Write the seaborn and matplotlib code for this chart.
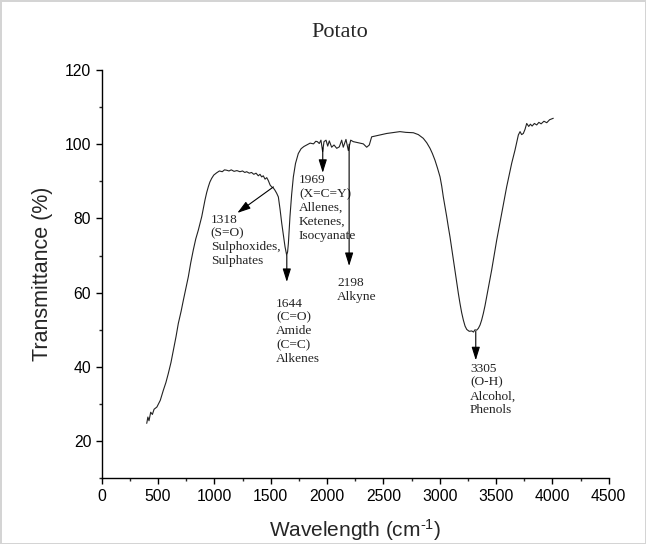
import numpy as np
import pandas as pd
import matplotlib
matplotlib.use("Agg")
import matplotlib.pyplot as plt
from matplotlib.ticker import MultipleLocator
import seaborn as sns

# ---- spectrum ----
wavenumber = [
    400, 410, 420, 435, 450, 465, 490, 520, 547, 570, 591, 615, 636, 660, 680, 705,
    725, 750, 769, 790, 813, 835, 858, 875, 888, 905, 917, 932, 946, 960, 976, 995,
    1020, 1045, 1070, 1090, 1109, 1130, 1150, 1175, 1200, 1227, 1250, 1270, 1287,
    1310, 1330, 1350, 1370, 1390, 1405, 1420, 1434, 1450, 1465, 1479, 1495, 1509,
    1524, 1538, 1553, 1568, 1583, 1598, 1613, 1627, 1642, 1650, 1657, 1664, 1671,
    1686, 1701, 1720, 1745, 1770, 1795, 1820, 1850, 1880, 1900, 1914, 1931, 1946,
    1961, 1973, 1991, 2006, 2020, 2041, 2062, 2086, 2109, 2130, 2144, 2168, 2189,
    2210, 2233, 2278, 2322, 2352, 2375, 2396, 2441, 2485, 2529, 2575, 2618, 2647,
    2700, 2766, 2810, 2854, 2885, 2914, 2935, 2958, 2980, 3003, 3018, 3032, 3047,
    3062, 3076, 3091, 3106, 3121, 3136, 3151, 3166, 3180, 3195, 3210, 3225, 3240,
    3262, 3284, 3300, 3312, 3328, 3343, 3358, 3372, 3387, 3402, 3417, 3440, 3461,
    3484, 3506, 3528, 3550, 3572, 3594, 3617, 3639, 3655, 3668, 3683, 3698, 3713,
    3727, 3742, 3757, 3772, 3790, 3805, 3820, 3840, 3861, 3880, 3900, 3925, 3950,
    3975, 4008,
]
transmittance = [
    24.8, 26.5, 25.5, 27.8, 27.2, 28.6, 29.2, 31.0, 33.7, 35.8, 38.2, 41.2, 44.5, 48.2, 51.7, 55.0,
    58.0, 61.5, 64.3, 68.0, 71.5, 74.5, 76.9, 79.0, 80.5, 83.2, 85.0, 87.0, 88.5, 89.8, 90.8, 91.7,
    92.3, 92.8, 92.6, 93.1, 93.0, 92.8, 93.1, 92.7, 92.9, 92.6, 92.8, 92.4, 92.6,
    92.2, 92.4, 91.9, 92.2, 91.5, 91.9, 91.2, 91.5, 90.6, 91.0, 90.2, 89.0, 88.5,
    88.2, 87.6, 86.8, 85.8, 82.5, 78.7, 75.5, 72.4, 70.1, 71.0, 73.3, 77.0, 80.5,
    86.5, 91.2, 94.8, 97.5, 98.8, 99.4, 99.8, 100.3, 100.1, 100.8, 100.7, 100.2, 101.1,
    98.0, 100.7, 101.1, 99.5, 100.9, 99.2, 99.8, 98.9, 99.3, 101.1, 99.2, 101.3, 98.3,
    101.1, 100.7, 100.4, 100.1, 99.2, 99.8, 102.0, 102.3, 102.6, 102.9, 103.1, 103.3, 103.4,
    103.2, 103.1, 102.6, 101.6, 100.4, 98.9, 97.5, 95.7, 93.6, 91.2, 88.7, 85.8, 83.2,
    80.5, 77.8, 75.1, 72.0, 68.8, 65.6, 62.5, 59.7, 57.1, 54.6, 52.6, 51.0, 50.1,
    49.6, 49.7, 49.4, 50.0, 49.9, 50.4, 51.3, 52.6, 54.4, 56.5, 58.9, 62.6, 66.1,
    70.2, 74.2, 77.8, 81.4, 85.0, 88.5, 91.8, 94.9, 96.8, 98.4, 100.5, 102.5, 103.4,
    102.6, 102.9, 104.0, 105.6, 104.8, 105.4, 104.9, 105.6, 105.2, 105.9, 105.5, 106.2, 105.8,
    106.6, 107.0,
]

# ---- peak annotations ----
ann_texts = [
    "1318\n(S=O)\nSulphoxides,\nSulphates",
    "1644\n(C=O)\nAmide\n(C=C)\nAlkenes",
    "1969\n(X=C=Y)\nAllenes,\nKetenes,\nIsocyanate",
    "2198\nAlkyne",
    "3305\n(O-H)\nAlcohol,\nPhenols",
]
arrow_start = [(1524, 88.5), (1643, 70.0), (1962, 99.0), (2196, 100.0), (3320, 49.6)]
arrow_end = [(1204, 81.5), (1643, 62.9), (1962, 92.3), (2196, 67.2), (3320, 41.8)]
text_pos = [(968, 81.3), (1547, 58.7), (1751, 91.9), (2091, 64.3), (3269, 41.1)]

x_ticks = [0, 500, 1000, 1500, 2000, 2500, 3000, 3500, 4000, 4500]
y_ticks = [20, 40, 60, 80, 100, 120]

sns.set_style("ticks")
plt.rcParams["font.family"] = ["Liberation Sans", "DejaVu Sans"]
plt.rcParams["mathtext.default"] = "regular"

fig = plt.figure(figsize=(6.46, 5.44), dpi=100)
fig.patch.set_facecolor("white")
fig.patch.set_edgecolor("#d4d4d4")
fig.patch.set_linewidth(2)
ax = fig.add_axes([0.1574, 0.1208, 0.7849, 0.7505])

df = pd.DataFrame({"Wavelength": wavenumber, "Transmittance": transmittance})
sns.lineplot(data=df, x="Wavelength", y="Transmittance", ax=ax, color="#222222",
             linewidth=0.8, estimator=None, sort=False)

ax.set_xlim(0, 4500)
ax.set_ylim(10, 120)
ax.set_xticks(x_ticks)
ax.set_yticks(y_ticks)
ax.xaxis.set_minor_locator(MultipleLocator(250))
ax.yaxis.set_minor_locator(MultipleLocator(10))
ax.tick_params(axis="both", which="major", direction="out", length=4.5, width=1.0,
               labelsize=11.3, colors="black", pad=3)
ax.tick_params(axis="both", which="minor", direction="out", length=2.5, width=1.0)
for s in ["top", "right"]:
    ax.spines[s].set_visible(False)
for s in ["left", "bottom"]:
    ax.spines[s].set_linewidth(1.0)
    ax.spines[s].set_color("black")

ax.set_xlabel("Wavelength (cm$^{\u2010 1}$)", fontsize=15)
ax.set_ylabel("Transmittance (%)", fontsize=15.5)
ax.xaxis.set_label_coords(0.5, -0.127)
ax.xaxis.label.set_va("center")
ax.yaxis.set_label_coords(-0.116, 0.5)
ax.yaxis.label.set_va("center")

fig.text(0.526, 0.941, "Potato", ha="center", va="center", fontsize=16,
         family=["Liberation Serif", "DejaVu Serif"])

for txt, s, e, tp in zip(ann_texts, arrow_start, arrow_end, text_pos):
    ax.annotate("", xy=e, xytext=s, xycoords="data", textcoords="data",
                arrowprops=dict(arrowstyle="-|>,head_length=0.8,head_width=0.25",
                                color="black", lw=0.8, mutation_scale=10,
                                shrinkA=0, shrinkB=0))
    ax.text(tp[0], tp[1], txt, ha="left", va="top", fontsize=9.6, linespacing=1.2,
            family=["Liberation Serif", "DejaVu Serif"], color="#222222")

fig.savefig("out.png", dpi=100, facecolor=fig.get_facecolor(), edgecolor=fig.get_edgecolor())
